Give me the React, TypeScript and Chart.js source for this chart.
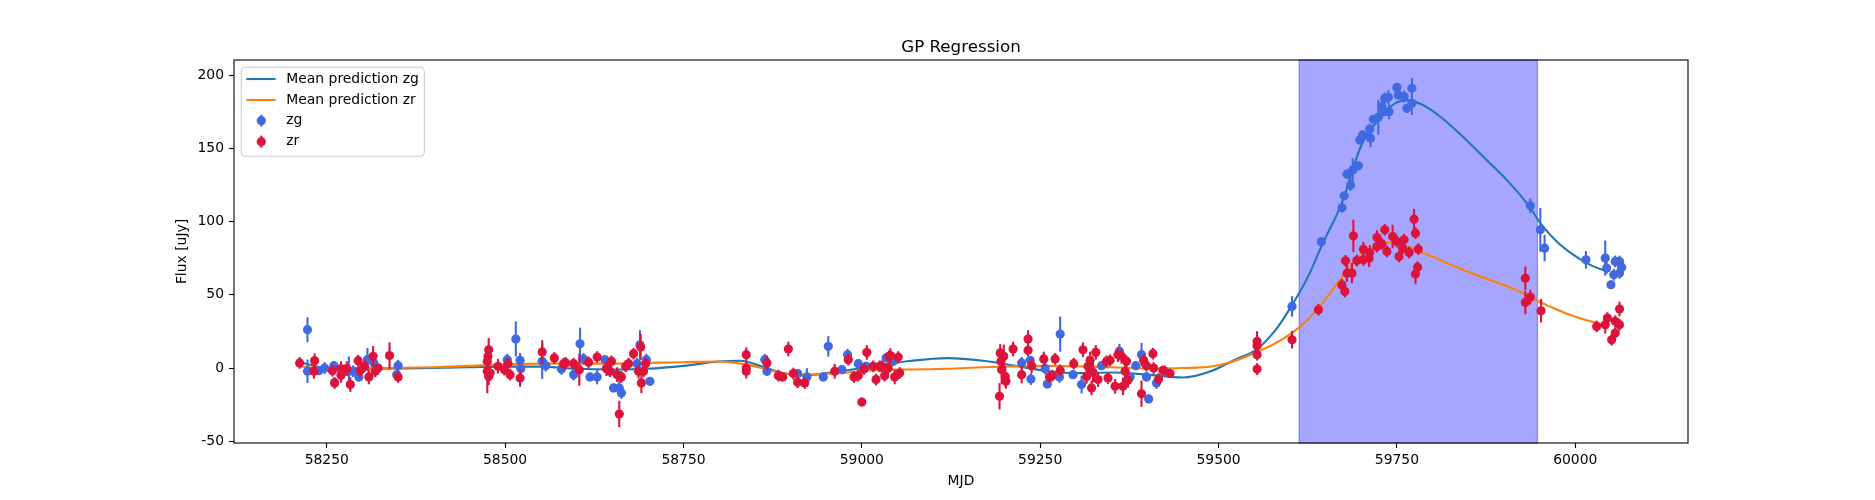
import React, { useEffect, useRef } from "react";
import { Chart, registerables } from "chart.js";
Chart.register(...registerables);

// ---------- data ----------
const titleText = "GP Regression";
const xLabel = "MJD";
const yLabel = "Flux [uJy]";
const xRange = [58120, 60158];
const yRange = [-51.2, 210.4];
const xTicks = [58250, 58500, 58750, 59000, 59250, 59500, 59750, 60000];
const yTicks = [-50, 0, 50, 100, 150, 200];
const spanRange = [59613, 59947];

const gpMjd = [58213, 58250, 58300, 58400, 58450, 58500, 58550, 58600, 58650, 58700, 58750, 58800, 58830, 58860, 58890, 58920, 58950, 58980, 59020, 59070, 59120, 59170, 59220, 59260, 59300, 59350, 59400, 59450, 59490, 59520, 59554, 59580, 59603, 59625, 59645, 59673, 59700, 59720, 59745, 59765, 59785, 59810, 59838, 59876, 59904, 59936, 59951, 59974, 59997, 60021, 60044];
const gpZg = [4, 0, -0.5, 0, 0.5, 1, 1, -0.5, -1, -0.5, 1.5, 4.5, 5, 1, -3.5, -5, -3.5, -1.5, 1.5, 5, 6.8, 5, 1, -2, -3.5, -3, -4.5, -6.5, -2, 5, 13, 26, 43, 62, 84, 113, 152, 167, 180, 183, 180, 172, 160, 142, 128.5, 110, 99, 86.5, 77.5, 70.5, 66];
const gpZr = [1, 0, 0, 0.5, 1.5, 2.5, 3, 3, 3, 3.5, 4, 4.5, 3, 0, -3.5, -4.5, -4, -3, -1.5, -1, -0.5, 0.5, 1.2, 1.5, 1.2, 0.5, -0.3, 0, 1, 4.5, 11, 17, 24, 33, 44, 62, 78, 83, 86, 83, 79, 74, 68, 61, 56, 49, 45, 40, 35.5, 32, 29.5];

const zgMjd = [58223, 58223, 58239, 58247, 58260, 58261, 58281, 58287, 58295, 58307, 58316, 58348, 58350, 58503, 58515, 58521, 58522, 58552, 58557, 58579, 58596, 58605, 58610, 58619, 58629, 58640, 58652, 58660, 58663, 58685, 58689, 58698, 58703, 58864, 58867, 58884, 58910, 58923, 58946, 58953, 58972, 58980, 58995, 59006, 59034, 59044, 59224, 59236, 59237, 59257, 59260, 59277, 59278, 59296, 59308, 59336, 59361, 59376, 59384, 59392, 59399, 59402, 59413, 59425, 59603, 59644, 59673, 59676, 59680, 59685, 59688, 59696, 59698, 59702, 59712, 59713, 59717, 59724, 59729, 59732, 59733, 59738, 59739, 59750, 59752, 59760, 59764, 59771, 59771, 59937, 59951, 59957, 60015, 60042, 60044, 60050, 60054, 60056, 60062, 60062, 60065];
const zgFlux = [26.2, -2.2, -1.8, 0, 1.6, -10, -2.2, -2.2, -6.1, 5.7, 3.5, -4.5, 1.6, 5.7, 19.8, 5.3, -0.4, 4.6, 1.6, -0.6, -4.5, 16.6, 6.2, -6.1, -6.1, 5.7, -13.6, -13.6, -17, 3, 15.9, 5.7, -9.1, 5.7, -2.2, -5.2, -3.8, -6.1, -6.1, 14.8, -1.1, 9.1, 3, 1.2, 6.9, 4.6, 3.5, 5.3, -7.5, -0.4, -10.9, -6.1, 23.2, -4.5, -11.3, 1.6, 11.4, -6.1, 1.6, 9.1, -6.1, -21.1, -10.2, -2.2, 42.1, 86.2, 109.4, 117.6, 132.4, 125.1, 135.3, 138.1, 155.8, 159.2, 163.3, 156.9, 169.9, 171.3, 178.5, 175.1, 184.2, 184.9, 175.1, 191.7, 186.5, 185.4, 177.4, 191.1, 180.8, 110.8, 94.4, 81.9, 73.9, 75.1, 68.3, 56.9, 63.7, 72.8, 72.8, 64.9, 68.9];
const zgErr = [8.5, 8, 3, 4, 3, 3, 10, 4, 3, 8, 4, 3, 4, 4, 12, 5, 4, 12, 4, 4, 4, 11, 4, 3, 5, 3, 3, 5, 4, 4, 10, 4, 3, 4, 3, 3, 3, 6, 3, 7, 3, 4, 3, 3, 3, 3, 4, 3, 4, 4, 3, 4, 12, 3, 6, 3, 5, 3, 3, 8, 3, 3, 4, 4, 7, 3, 3, 3, 3, 4, 8, 3, 3, 3, 3, 6, 3, 12, 4, 3, 4, 5, 5, 3, 3, 4, 3, 7, 8, 5, 15, 9, 6, 12, 4, 3, 4, 4, 4, 4, 5];

const zrMjd = [58212, 58232, 58233, 58258, 58261, 58270, 58270, 58278, 58283, 58294, 58297, 58303, 58309, 58315, 58318, 58322, 58338, 58350, 58475, 58475, 58476, 58477, 58477, 58479, 58490, 58499, 58504, 58507, 58521, 58552, 58569, 58582, 58585, 58596, 58604, 58617, 58629, 58642, 58647, 58649, 58657, 58660, 58663, 58669, 58673, 58680, 58687, 58690, 58691, 58694, 58697, 58838, 58838, 58838, 58867, 58883, 58889, 58897, 58904, 58910, 58920, 58962, 58981, 58989, 58995, 59000, 59003, 59007, 59016, 59020, 59025, 59028, 59032, 59037, 59038, 59040, 59046, 59051, 59053, 59193, 59194, 59195, 59196, 59199, 59201, 59202, 59212, 59224, 59233, 59233, 59238, 59255, 59263, 59267, 59271, 59278, 59297, 59310, 59315, 59317, 59320, 59322, 59324, 59328, 59331, 59343, 59345, 59348, 59355, 59359, 59364, 59366, 59369, 59371, 59373, 59392, 59395, 59399, 59408, 59409, 59416, 59422, 59432, 59554, 59554, 59554, 59554, 59603, 59640, 59673, 59677, 59678, 59680, 59687, 59689, 59694, 59703, 59703, 59711, 59712, 59722, 59722, 59729, 59733, 59736, 59744, 59750, 59753, 59758, 59760, 59767, 59774, 59776, 59776, 59779, 59780, 59930, 59930, 59937, 59952, 60030, 60042, 60045, 60051, 60056, 60056, 60062, 60062];
const zrFlux = [3.5, -2.2, 5, -1.8, -10.2, -0.4, -5, -0.4, -11.3, 5, -1.6, 1.2, -6.1, 8, -2.2, 0, 8.5, -6.1, 4.6, -2.2, 8, 12.5, -5.7, -3.4, 1.2, -1.1, 3, -4.5, -6.8, 11, 6.9, 3, 3.5, 3, -1.1, 3.9, 7.5, -0.4, -2.2, 4.6, -4.5, -31.4, -6.1, 1.2, 3, 9.8, -2.2, 14.4, -10.2, -2.2, 3, 9.1, 0, -2.2, 3.5, -5.2, -6.1, 13, -3.8, -9.7, -10.2, -2.2, 5.7, -6.1, -5.2, -23.2, -0.6, 10.7, 1.2, -7.9, 1.2, 1.2, -5.2, 0, 8, 8.5, -6.1, 7.5, -3.4, -19.3, 10.3, 4.6, -1.1, 8, -5.7, -9.1, 13, -4.5, 19.8, 12.1, 1.6, 6.2, -6.1, -5.2, 6.2, -1.6, 3, 12.5, -5.7, 1.2, 5.3, -13.6, -2.9, 10.7, -7.9, 4.6, -6.8, 5.3, -12.5, 9.1, 8, -12.5, -2.2, 4.6, -8.4, -17.5, 5.3, 1.6, 9.8, 0, -7.5, -1.6, -3.8, 18.2, 15.2, 9.1, -0.7, 19.3, 39.8, 56.8, 52.3, 73.2, 64.8, 64.8, 90.3, 73.4, 81.2, 73.9, 75, 78.9, 89.1, 83, 84.8, 94.4, 79.6, 89.8, 86.4, 76.2, 81.9, 87.6, 78.9, 101.7, 92.1, 64.3, 68.9, 81.2, 61.4, 44.8, 48.5, 39.1, 28.4, 29.6, 34.1, 19.3, 31.9, 23.9, 29.6, 40.3];
const zrErr = [4, 5, 5, 4, 4, 5, 5, 5, 5, 4, 5, 4, 5, 7, 4, 3, 9, 4, 5, 15, 5, 8, 6, 5, 5, 4, 4, 4, 6, 8, 4, 4, 4, 4, 11, 4, 4, 5, 4, 4, 5, 9, 4, 4, 4, 4, 5, 9, 7, 4, 4, 5, 5, 5, 5, 4, 3, 5, 4, 4, 4, 5, 4, 4, 4, 3, 4, 5, 4, 4, 4, 4, 4, 4, 4, 5, 5, 4, 4, 9, 6, 8, 10, 8, 7, 5, 5, 6, 6, 4, 5, 5, 4, 4, 4, 4, 4, 5, 5, 7, 6, 5, 7, 5, 5, 4, 4, 4, 5, 5, 5, 6, 5, 4, 5, 9, 4, 4, 4, 4, 4, 3, 3, 7, 4, 4, 4, 6, 4, 4, 4, 4, 6, 7, 11, 4, 5, 4, 6, 5, 5, 4, 4, 4, 4, 8, 4, 4, 4, 4, 4, 7, 4, 7, 4, 4, 8, 8, 5, 8, 4, 6, 4, 4, 4, 4, 4, 5];

// ---------- styles ----------
const FONT = "'DejaVu Sans', 'Liberation Sans', sans-serif";
const zgLineColor = "#1f77b4";
const zrLineColor = "#ff7f0e";
const zgColor = "#4169e1";
const zrColor = "#dc143c";
const legendLabels = ["Mean prediction zg", "Mean prediction zr", "zg", "zr"];
const LW = 2.1;
const MR = 4.6;
const FS = 13.9;

const pts = (xs: number[], ys: number[]) => xs.map((x, i) => ({ x, y: ys[i] }));
const errMap: Record<string, number[]> = { zg: zgErr, zr: zrErr };

const decorPlugin = {
  id: "decor",
  beforeDatasetsDraw(chart: any) {
    const { ctx, chartArea: a, scales } = chart;
    const x0 = scales.x.getPixelForValue(spanRange[0]);
    const x1 = scales.x.getPixelForValue(spanRange[1]);
    ctx.save();
    ctx.fillStyle = "rgba(0,0,255,0.35)";
    ctx.fillRect(x0, a.top, x1 - x0, a.bottom - a.top);
    ctx.strokeStyle = "rgba(0,0,255,0.35)";
    ctx.lineWidth = 1.3;
    ctx.strokeRect(x0, a.top, x1 - x0, a.bottom - a.top);
    ctx.restore();
  },
  beforeDatasetDraw(chart: any, args: any) {
    const ds = chart.data.datasets[args.index];
    const errs = errMap[ds.label];
    if (!errs) return;
    const { ctx, scales, chartArea: a } = chart;
    ctx.save();
    ctx.beginPath();
    ctx.rect(a.left, a.top, a.right - a.left, a.bottom - a.top);
    ctx.clip();
    ctx.strokeStyle = ds.backgroundColor;
    ctx.lineWidth = LW;
    ds.data.forEach((p: any, i: number) => {
      const px = scales.x.getPixelForValue(p.x);
      ctx.beginPath();
      ctx.moveTo(px, scales.y.getPixelForValue(p.y - errs[i]));
      ctx.lineTo(px, scales.y.getPixelForValue(p.y + errs[i]));
      ctx.stroke();
    });
    ctx.restore();
  },
  afterDatasetsDraw(chart: any) {
    const { ctx, chartArea: a } = chart;
    ctx.save();
    ctx.strokeStyle = "#000";
    ctx.lineWidth = 1.1;
    ctx.strokeRect(a.left, a.top, a.right - a.left, a.bottom - a.top);
    ctx.restore();
  },
  afterDraw(chart: any) {
    const { ctx, chartArea: a } = chart;
    const cx = (a.left + a.right) / 2;
    ctx.save();
    ctx.fillStyle = "#000";
    ctx.textAlign = "center";
    ctx.textBaseline = "alphabetic";
    ctx.font = `16.7px ${FONT}`;
    ctx.fillText(titleText, cx, 51.5);
    ctx.font = `${FS}px ${FONT}`;
    ctx.fillText(xLabel, cx, 485);
    ctx.textBaseline = "middle";
    ctx.translate(182, (a.top + a.bottom) / 2);
    ctx.rotate(-Math.PI / 2);
    ctx.fillText(yLabel, 0, 0);
    ctx.restore();

    // legend
    const bx = a.left + 7.3, by = a.top + 7.3, bw = 183, bh = 89, r = 4;
    ctx.save();
    ctx.beginPath();
    ctx.moveTo(bx + r, by);
    ctx.arcTo(bx + bw, by, bx + bw, by + bh, r);
    ctx.arcTo(bx + bw, by + bh, bx, by + bh, r);
    ctx.arcTo(bx, by + bh, bx, by, r);
    ctx.arcTo(bx, by, bx + bw, by, r);
    ctx.closePath();
    ctx.fillStyle = "rgba(255,255,255,0.8)";
    ctx.fill();
    ctx.strokeStyle = "#cccccc";
    ctx.lineWidth = 1.1;
    ctx.stroke();
    const rows = [79, 100, 120.7, 141.7];
    const colors = [zgLineColor, zrLineColor, zgColor, zrColor];
    rows.forEach((ry, i) => {
      ctx.strokeStyle = colors[i];
      ctx.lineWidth = LW;
      ctx.beginPath();
      if (i < 2) {
        ctx.moveTo(246.3, ry);
        ctx.lineTo(275.7, ry);
        ctx.stroke();
      } else {
        ctx.moveTo(261.3, ry - 6);
        ctx.lineTo(261.3, ry + 6);
        ctx.stroke();
        ctx.fillStyle = colors[i];
        ctx.beginPath();
        ctx.arc(261.3, ry, MR, 0, Math.PI * 2);
        ctx.fill();
      }
      ctx.fillStyle = "#000";
      ctx.font = `${FS}px ${FONT}`;
      ctx.textAlign = "left";
      ctx.textBaseline = "middle";
      ctx.fillText(legendLabels[i], 286.3, ry);
    });
    ctx.restore();
  },
};

export default function App() {
  const ref = useRef<HTMLCanvasElement>(null);
  useEffect(() => {
    if (!ref.current) return;
    const tickFont = { family: FONT, size: FS };
    const chart = new Chart(ref.current, {
      type: "scatter",
      data: {
        datasets: [
          {
            type: "line",
            label: "Mean prediction zg",
            data: pts(gpMjd, gpZg),
            borderColor: zgLineColor,
            borderWidth: LW,
            pointRadius: 0,
            cubicInterpolationMode: "monotone",
            fill: false,
            order: 4,
          } as any,
          {
            type: "line",
            label: "Mean prediction zr",
            data: pts(gpMjd, gpZr),
            borderColor: zrLineColor,
            borderWidth: LW,
            pointRadius: 0,
            cubicInterpolationMode: "monotone",
            fill: false,
            order: 3,
          } as any,
          {
            label: "zg",
            data: pts(zgMjd, zgFlux),
            backgroundColor: zgColor,
            borderColor: zgColor,
            borderWidth: 0,
            pointRadius: MR,
            order: 2,
          },
          {
            label: "zr",
            data: pts(zrMjd, zrFlux),
            backgroundColor: zrColor,
            borderColor: zrColor,
            borderWidth: 0,
            pointRadius: MR,
            order: 1,
          },
        ],
      },
      options: {
        animation: false,
        responsive: false,
        devicePixelRatio: 1,
        layout: { padding: { left: 0, right: 187, top: 60, bottom: 0 } },
        plugins: {
          legend: { display: false },
          title: { display: false },
          tooltip: { enabled: false },
        },
        events: [],
        scales: {
          x: {
            type: "linear",
            min: xRange[0],
            max: xRange[1],
            border: { display: false },
            grid: { drawOnChartArea: false, drawTicks: true, tickLength: 5, tickWidth: 1.1, tickColor: "#000" },
            ticks: {
              color: "#000",
              font: tickFont,
              padding: 4,
              maxRotation: 0,
              autoSkip: false,
              callback: (v: any) => String(v),
            },
            afterBuildTicks: (s: any) => {
              s.ticks = xTicks.map((value) => ({ value }));
            },
            afterFit: (s: any) => {
              s.height = 57;
            },
          },
          y: {
            type: "linear",
            min: yRange[0],
            max: yRange[1],
            border: { display: false },
            grid: { drawOnChartArea: false, drawTicks: true, tickLength: 5, tickWidth: 1.1, tickColor: "#000" },
            ticks: {
              color: "#000",
              font: tickFont,
              padding: 5,
              autoSkip: false,
              callback: (v: any) => String(v),
            },
            afterBuildTicks: (s: any) => {
              s.ticks = yTicks.map((value) => ({ value }));
            },
            afterFit: (s: any) => {
              s.width = 234;
            },
          },
        },
      },
      plugins: [decorPlugin],
    });
    return () => chart.destroy();
  }, []);
  return (
    <div style={{ position: "fixed", left: 0, top: 0, width: 1875, height: 500, background: "#fff" }}>
      <canvas ref={ref} width={1875} height={500} style={{ display: "block" }} />
    </div>
  );
}
